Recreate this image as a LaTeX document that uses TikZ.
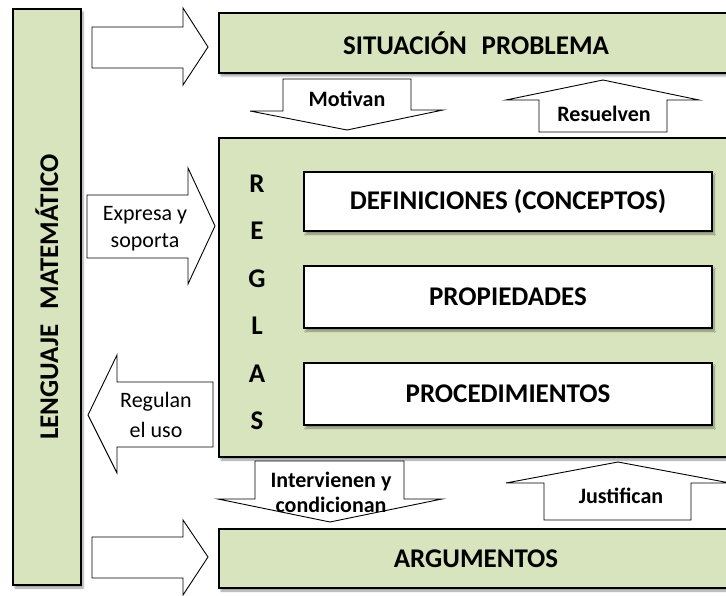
\documentclass[tikz,border=0pt]{standalone}
\usepackage{fontspec}
\setmainfont{Carlito}
\usetikzlibrary{shadows.blur}

\definecolor{oliva}{HTML}{D7E4BD}

\begin{document}
\begin{tikzpicture}[x=1pt,y=-1pt,
    caja/.style={draw, line width=2pt, fill=oliva, anchor=north west,
      blur shadow={shadow xshift=2pt, shadow yshift=-3pt, shadow blur steps=6}},
    cajablanca/.style={caja, fill=white},
    flecha/.style={draw, fill=white, line width=0.9pt, line join=miter},
    titulo/.style={font=\bfseries\fontsize{27}{30}\selectfont},
    etiq/.style={font=\bfseries\fontsize{22}{26}\selectfont, align=center},
    texto/.style={font=\fontsize{22}{28}\selectfont, align=center}]
    \useasboundingbox (0,0) rectangle (726,596);
    \clip (0,0) rectangle (726,596);
    % Lenguaje matematico
    \node[caja, minimum width=68pt, minimum height=576pt] (lenguaje) at (12,8) {};
    \node[titulo, rotate=90] (lenguajet) at (lenguaje.center) {LENGUAJE\hspace{0.55em}MATEMÁTICO};
    % Situacion problema
    \node[caja, minimum width=514pt, minimum height=60pt, titulo] (situacion) at (218,12) {SITUACIÓN\hspace{0.55em}PROBLEMA};
    % Reglas
    \node[caja, minimum width=514pt, minimum height=319pt] (reglas) at (218,137) {};
    \foreach \l [count=\i] in {R,E,G,L,A,S}
      \node[titulo] (letra\i) at (257,136+47.5*\i) {\l};
    \node[cajablanca, minimum width=408pt, minimum height=59pt, titulo] (definiciones) at (303,171) {DEFINICIONES (CONCEPTOS)};
    \node[cajablanca, minimum width=408pt, minimum height=62pt, titulo] (propiedades) at (303,265) {PROPIEDADES};
    \node[cajablanca, minimum width=408pt, minimum height=62pt, titulo] (procedimientos) at (303,362) {PROCEDIMIENTOS};
    % Argumentos
    \node[caja, minimum width=514pt, minimum height=59pt, titulo] (argumentos) at (218,528) {ARGUMENTOS};
    % Flechas de bloque
    \draw[flecha] (92,27) -- (183,27) -- (183,8) -- (208,47) -- (183,85) -- (183,68) -- (92,68) -- cycle;
    \draw[flecha] (283,79) -- (411,79) -- (411,110) -- (443,110) -- (347,130) -- (250,111) -- (283,111) -- cycle;
    \node[etiq] (motivan) at (347,99) {Motivan};
    \draw[flecha] (539,132) -- (667,132) -- (667,100) -- (699,100) -- (603,80) -- (506,100) -- (539,100) -- cycle;
    \node[etiq] (resuelven) at (604,114) {Resuelven};
    \draw[flecha] (87,195) -- (188,195) -- (188,168) -- (215,226) -- (188,284) -- (188,258) -- (87,258) -- cycle;
    \node[texto, font=\fontsize{22}{27}\selectfont] (expresa) at (145,229) {Expresa y\\soporta};
    \draw[flecha] (213,382) -- (117,382) -- (117,355) -- (88,415) -- (117,473) -- (117,447) -- (213,447) -- cycle;
    \node[texto, font=\fontsize{22}{30}\selectfont] (regulan) at (156,415) {Regulan\\el uso};
    \draw[flecha] (255,461) -- (404,461) -- (404,499) -- (442,499) -- (330,522) -- (218,499) -- (255,499) -- cycle;
    \node[etiq, font=\bfseries\fontsize{22}{25}\selectfont] (intervienen) at (331,492) {Intervienen y\\condicionan};
    \draw[flecha] (544,520) -- (691,520) -- (691,483) -- (730,483) -- (618,462) -- (506,483) -- (544,483) -- cycle;
    \node[etiq] (justifican) at (621,496) {Justifican};
    \draw[flecha] (92,537) -- (183,537) -- (183,520) -- (208,557) -- (183,595) -- (183,578) -- (92,578) -- cycle;
\end{tikzpicture}
\end{document}
